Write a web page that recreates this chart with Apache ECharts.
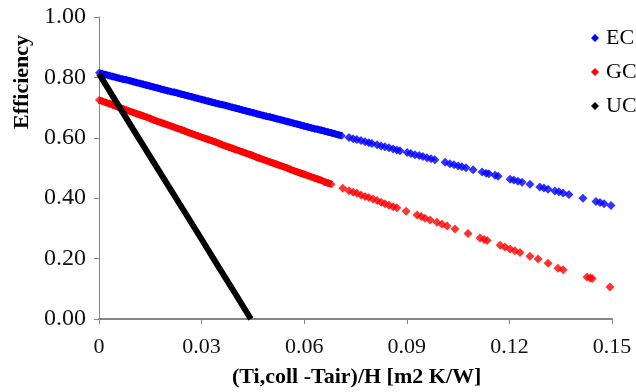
<!DOCTYPE html>
<html>
<head>
<meta charset="utf-8">
<script src="https://cdn.jsdelivr.net/npm/echarts@6/dist/echarts.min.js"></script>
<style>
html,body{margin:0;padding:0;background:#fff;}
#chart{width:636px;height:392px;}
</style>
</head>
<body>
<div id="chart"></div>
<script>
var seriesNames = ['EC', 'GC', 'UC'];
var xTicks = [0, 0.03, 0.06, 0.09, 0.12, 0.15];
var yTicks = [0, 0.2, 0.4, 0.6, 0.8, 1.0];

// EC: densely sampled part (looks like a solid band) and sparser tail
var ecDense = [
[0.000,0.815],[0.001,0.812],[0.002,0.809],[0.003,0.806],[0.004,0.803],[0.005,0.800],[0.006,0.797],[0.007,0.794],[0.008,0.792],[0.009,0.789],
[0.010,0.786],[0.011,0.783],[0.012,0.780],[0.013,0.777],[0.014,0.774],[0.015,0.771],[0.016,0.768],[0.017,0.765],[0.018,0.762],[0.019,0.759],
[0.020,0.756],[0.021,0.753],[0.022,0.751],[0.023,0.748],[0.024,0.745],[0.025,0.742],[0.026,0.739],[0.027,0.736],[0.028,0.733],[0.029,0.730],
[0.030,0.727],[0.031,0.724],[0.032,0.721],[0.033,0.718],[0.034,0.715],[0.035,0.712],[0.036,0.710],[0.037,0.707],[0.038,0.704],[0.039,0.701],
[0.040,0.698],[0.041,0.695],[0.042,0.692],[0.043,0.689],[0.044,0.686],[0.045,0.683],[0.046,0.680],[0.047,0.677],[0.048,0.674],[0.049,0.671],
[0.050,0.669],[0.051,0.666],[0.052,0.663],[0.053,0.660],[0.054,0.657],[0.055,0.654],[0.056,0.651],[0.057,0.648],[0.058,0.645],[0.059,0.642],
[0.060,0.639],[0.061,0.636],[0.062,0.633],[0.063,0.630],[0.064,0.628],[0.065,0.625],[0.066,0.622],[0.067,0.619],[0.068,0.616],[0.069,0.613],
[0.070,0.610],[0.071,0.607]
];
var ecSparse = [
[0.0731,0.601],[0.0743,0.597],[0.0754,0.594],[0.0766,0.591],[0.0778,0.587],[0.0789,0.584],[0.0798,0.581],[0.0813,0.577],[0.0825,0.573],
[0.0836,0.570],[0.0848,0.567],[0.0860,0.563],[0.0871,0.560],[0.0880,0.557],[0.0901,0.551],[0.0912,0.548],[0.0924,0.544],[0.0936,0.541],
[0.0947,0.538],[0.0959,0.534],[0.0971,0.531],[0.0982,0.527],[0.1012,0.519],[0.1026,0.514],[0.1038,0.511],[0.1050,0.507],[0.1061,0.504],
[0.1073,0.501],[0.1094,0.494],[0.1120,0.487],[0.1132,0.483],[0.1140,0.481],[0.1158,0.476],[0.1167,0.473],[0.1202,0.463],[0.1213,0.460],
[0.1225,0.456],[0.1237,0.453],[0.1260,0.446],[0.1289,0.437],[0.1301,0.434],[0.1313,0.430],[0.1333,0.424],[0.1345,0.421],[0.1357,0.417],
[0.1374,0.412],[0.1415,0.400],[0.1453,0.389],[0.1465,0.386],[0.1477,0.382],[0.1497,0.376]
];

// GC
var gcDense = [
[0.000,0.725],[0.001,0.721],[0.002,0.717],[0.003,0.713],[0.004,0.709],[0.005,0.705],[0.006,0.700],[0.007,0.696],[0.008,0.692],[0.009,0.688],
[0.010,0.684],[0.011,0.680],[0.012,0.676],[0.013,0.672],[0.014,0.668],[0.015,0.664],[0.016,0.659],[0.017,0.655],[0.018,0.651],[0.019,0.647],
[0.020,0.643],[0.021,0.639],[0.022,0.635],[0.023,0.631],[0.024,0.627],[0.025,0.623],[0.026,0.618],[0.027,0.614],[0.028,0.610],[0.029,0.606],
[0.030,0.602],[0.031,0.598],[0.032,0.594],[0.033,0.590],[0.034,0.586],[0.035,0.582],[0.036,0.577],[0.037,0.573],[0.038,0.569],[0.039,0.565],
[0.040,0.561],[0.041,0.557],[0.042,0.553],[0.043,0.549],[0.044,0.545],[0.045,0.541],[0.046,0.536],[0.047,0.532],[0.048,0.528],[0.049,0.524],
[0.050,0.520],[0.051,0.516],[0.052,0.512],[0.053,0.508],[0.054,0.504],[0.055,0.500],[0.056,0.495],[0.057,0.491],[0.058,0.487],[0.059,0.483],
[0.060,0.479],[0.061,0.475],[0.062,0.471],[0.063,0.467],[0.064,0.463],[0.065,0.459],[0.066,0.454],[0.067,0.450],[0.068,0.446]
];
var gcSparse = [
[0.0713,0.433],[0.0731,0.425],[0.0743,0.420],[0.0754,0.416],[0.0766,0.411],[0.0778,0.406],[0.0789,0.402],[0.0801,0.397],[0.0813,0.392],
[0.0825,0.387],[0.0836,0.382],[0.0848,0.377],[0.0860,0.372],[0.0871,0.368],[0.0898,0.357],[0.0930,0.344],[0.0942,0.339],[0.0953,0.334],
[0.0968,0.328],[0.0988,0.320],[0.1003,0.314],[0.1018,0.308],[0.1041,0.298],[0.1079,0.283],[0.1114,0.268],[0.1126,0.263],[0.1135,0.260],
[0.1173,0.244],[0.1187,0.238],[0.1202,0.232],[0.1216,0.226],[0.1231,0.220],[0.1260,0.208],[0.1284,0.199],[0.1313,0.185],[0.1342,0.168],
[0.1357,0.163],[0.1427,0.139],[0.1436,0.136],[0.1442,0.134],[0.1494,0.106]
];

// UC
var ucPoints = [
[0.000,0.812],[0.005,0.720],[0.010,0.628],[0.015,0.537],[0.020,0.446],[0.025,0.355],[0.030,0.264],[0.035,0.172],[0.040,0.081],[0.0444,0.000]
];

var FONT = '"Liberation Serif", "Times New Roman", serif';
var chart = echarts.init(document.getElementById('chart'), null, {renderer: 'canvas'});
chart.setOption({
  backgroundColor: '#ffffff',
  animation: false,
  grid: {left: 99, right: 24, top: 17, bottom: 73},
  legend: {
    orient: 'vertical',
    left: 586,
    top: 22,
    itemWidth: 8,
    itemHeight: 8,
    itemGap: 12,
    textStyle: {fontFamily: FONT, fontSize: 22, color: '#000', lineHeight: 22, padding: [0,0,0,2]},
    data: [
      {name: 'EC', icon: 'diamond', itemStyle: {color: '#0000ff'}},
      {name: 'GC', icon: 'diamond', itemStyle: {color: '#ff0000'}},
      {name: 'UC', icon: 'diamond', itemStyle: {color: '#000000'}}
    ]
  },
  xAxis: {
    type: 'value',
    min: xTicks[0],
    max: xTicks[xTicks.length - 1],
    interval: 0.03,
    splitLine: {show: false},
    axisLine: {show: true, lineStyle: {color: '#868686', width: 2}},
    axisTick: {show: true, length: 5, lineStyle: {color: '#868686', width: 1}},
    axisLabel: {
      fontFamily: FONT, fontSize: 22, color: '#111', margin: 17,
      formatter: function (v) { return v === 0 ? '0' : v.toFixed(2); }
    }
  },
  yAxis: {
    type: 'value',
    min: yTicks[0],
    max: yTicks[yTicks.length - 1],
    interval: 0.2,
    splitLine: {show: false},
    axisLine: {show: true, lineStyle: {color: '#868686', width: 1}},
    axisTick: {show: true, length: 5, lineStyle: {color: '#868686', width: 1}},
    axisLabel: {
      fontFamily: FONT, fontSize: 24, color: '#111', margin: 13,
      formatter: function (v) { return v.toFixed(2); }
    }
  },
  graphic: [
    {
      type: 'text', left: 232, top: 366,
      style: {text: '(Ti,coll -Tair)/H [m2 K/W]', font: 'bold 22px "Liberation Serif", "Times New Roman", serif', fill: '#000'}
    },
    {
      type: 'text', x: 11, y: 129, rotation: Math.PI / 2,
      style: {text: 'Efficiency', font: 'bold 22px "Liberation Serif", "Times New Roman", serif', fill: '#000', textAlign: 'left', textVerticalAlign: 'top'}
    }
  ],
  series: [
    {name: seriesNames[0], type: 'line', showSymbol: false, lineStyle: {color: '#0000ff', width: 7}, itemStyle: {color: '#0000ff'}, data: ecDense},
    {name: seriesNames[0], type: 'scatter', symbol: 'diamond', symbolSize: 8, itemStyle: {color: '#0000ff'}, data: ecDense},
    {name: seriesNames[0], type: 'scatter', symbol: 'diamond', symbolSize: 9, itemStyle: {color: '#0000ff'}, data: ecSparse},
    {name: seriesNames[1], type: 'line', showSymbol: false, lineStyle: {color: '#ff0000', width: 7}, itemStyle: {color: '#ff0000'}, data: gcDense},
    {name: seriesNames[1], type: 'scatter', symbol: 'diamond', symbolSize: 8, itemStyle: {color: '#ff0000'}, data: gcDense},
    {name: seriesNames[1], type: 'scatter', symbol: 'diamond', symbolSize: 9, itemStyle: {color: '#ff0000'}, data: gcSparse},
    {name: seriesNames[2], type: 'line', showSymbol: false, itemStyle: {color: '#000000'},
     lineStyle: {color: '#000000', width: 6}, data: ucPoints}
  ]
});
</script>
</body>
</html>
